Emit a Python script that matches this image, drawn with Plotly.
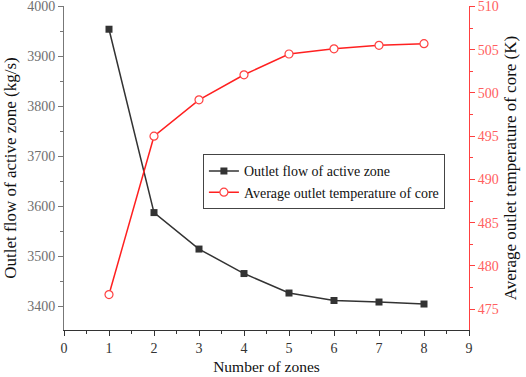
import plotly.graph_objects as go

zones = [1, 2, 3, 4, 5, 6, 7, 8]
outlet_flow = [3954, 3587, 3514, 3465, 3426, 3411, 3408, 3404]
outlet_temp = [476.7, 495.0, 499.2, 502.1, 504.5, 505.1, 505.5, 505.7]

ff = "Liberation Serif"

fig = go.Figure()
fig.add_trace(go.Scatter(
    x=zones, y=outlet_flow, name="Outlet flow of active zone",
    mode="lines+markers",
    line=dict(color="#333333", width=1.5),
    marker=dict(symbol="square", size=7, color="#333333"),
    yaxis="y"))
fig.add_trace(go.Scatter(
    x=zones, y=outlet_temp, name="Average outlet temperature of core",
    mode="lines+markers",
    line=dict(color="#ff2020", width=1.5),
    marker=dict(symbol="circle", size=8, color="white", line=dict(color="#ff4040", width=1.2)),
    yaxis="y2"))

fig.update_layout(
    width=526, height=377,
    margin=dict(l=64, r=57, t=6, b=47, autoexpand=False),
    plot_bgcolor="white", paper_bgcolor="white",
    font=dict(family=ff, size=14, color="#333333"),
    showlegend=True,
    legend=dict(x=0.343, y=0.542, xanchor="left", yanchor="top",
                bgcolor="white", bordercolor="#444444", borderwidth=1,
                font=dict(family=ff, size=14, color="#111111"),
                tracegroupgap=0, itemwidth=30),
    xaxis=dict(range=[0, 9], tickmode="linear", tick0=0, dtick=1, automargin=False,
               showgrid=False, zeroline=False, showline=True, linecolor="#333333", linewidth=1,
               ticks="outside", ticklen=5, tickcolor="#333333",
               minor=dict(ticks="outside", ticklen=3, dtick=0.5, tickcolor="#333333"),
               tickfont=dict(family=ff, size=14, color="#333333"),
               title=dict(text="Number of zones", font=dict(family=ff, size=15.5, color="#111111"), standoff=6)),
    yaxis=dict(range=[3352, 4000.5], tickmode="linear", tick0=3400, dtick=100, automargin=False,
               ticklabeloverflow="allow",
               showgrid=False, zeroline=False, showline=True, linecolor="#777777", linewidth=1,
               ticks="outside", ticklen=5, tickcolor="#777777",
               minor=dict(ticks="outside", ticklen=3, dtick=50, tickcolor="#777777"),
               tickfont=dict(family=ff, size=14, color="#707070"),
               title=dict(text="Outlet flow of active zone (kg/s)", font=dict(family=ff, size=17, color="#111111"), standoff=6)),
    yaxis2=dict(range=[472.6, 510.05], overlaying="y", side="right", tickmode="linear", tick0=475, dtick=5,
                automargin=False, ticklabeloverflow="allow",
                showgrid=False, zeroline=False, showline=True, linecolor="#ff4040", linewidth=1,
                ticks="outside", ticklen=5, tickcolor="#ff4040",
                minor=dict(ticks="outside", ticklen=3, dtick=2.5, tickcolor="#ff4040"),
                tickfont=dict(family=ff, size=14, color="#ff6060"),
                title=dict(text="Average outlet temperature of core (K)", font=dict(family=ff, size=17, color="#111111"), standoff=6)),
)

fig.write_html("out.html", config={"displayModeBar": False},
               post_script="document.body.style.margin='0';document.body.style.padding='0';")
